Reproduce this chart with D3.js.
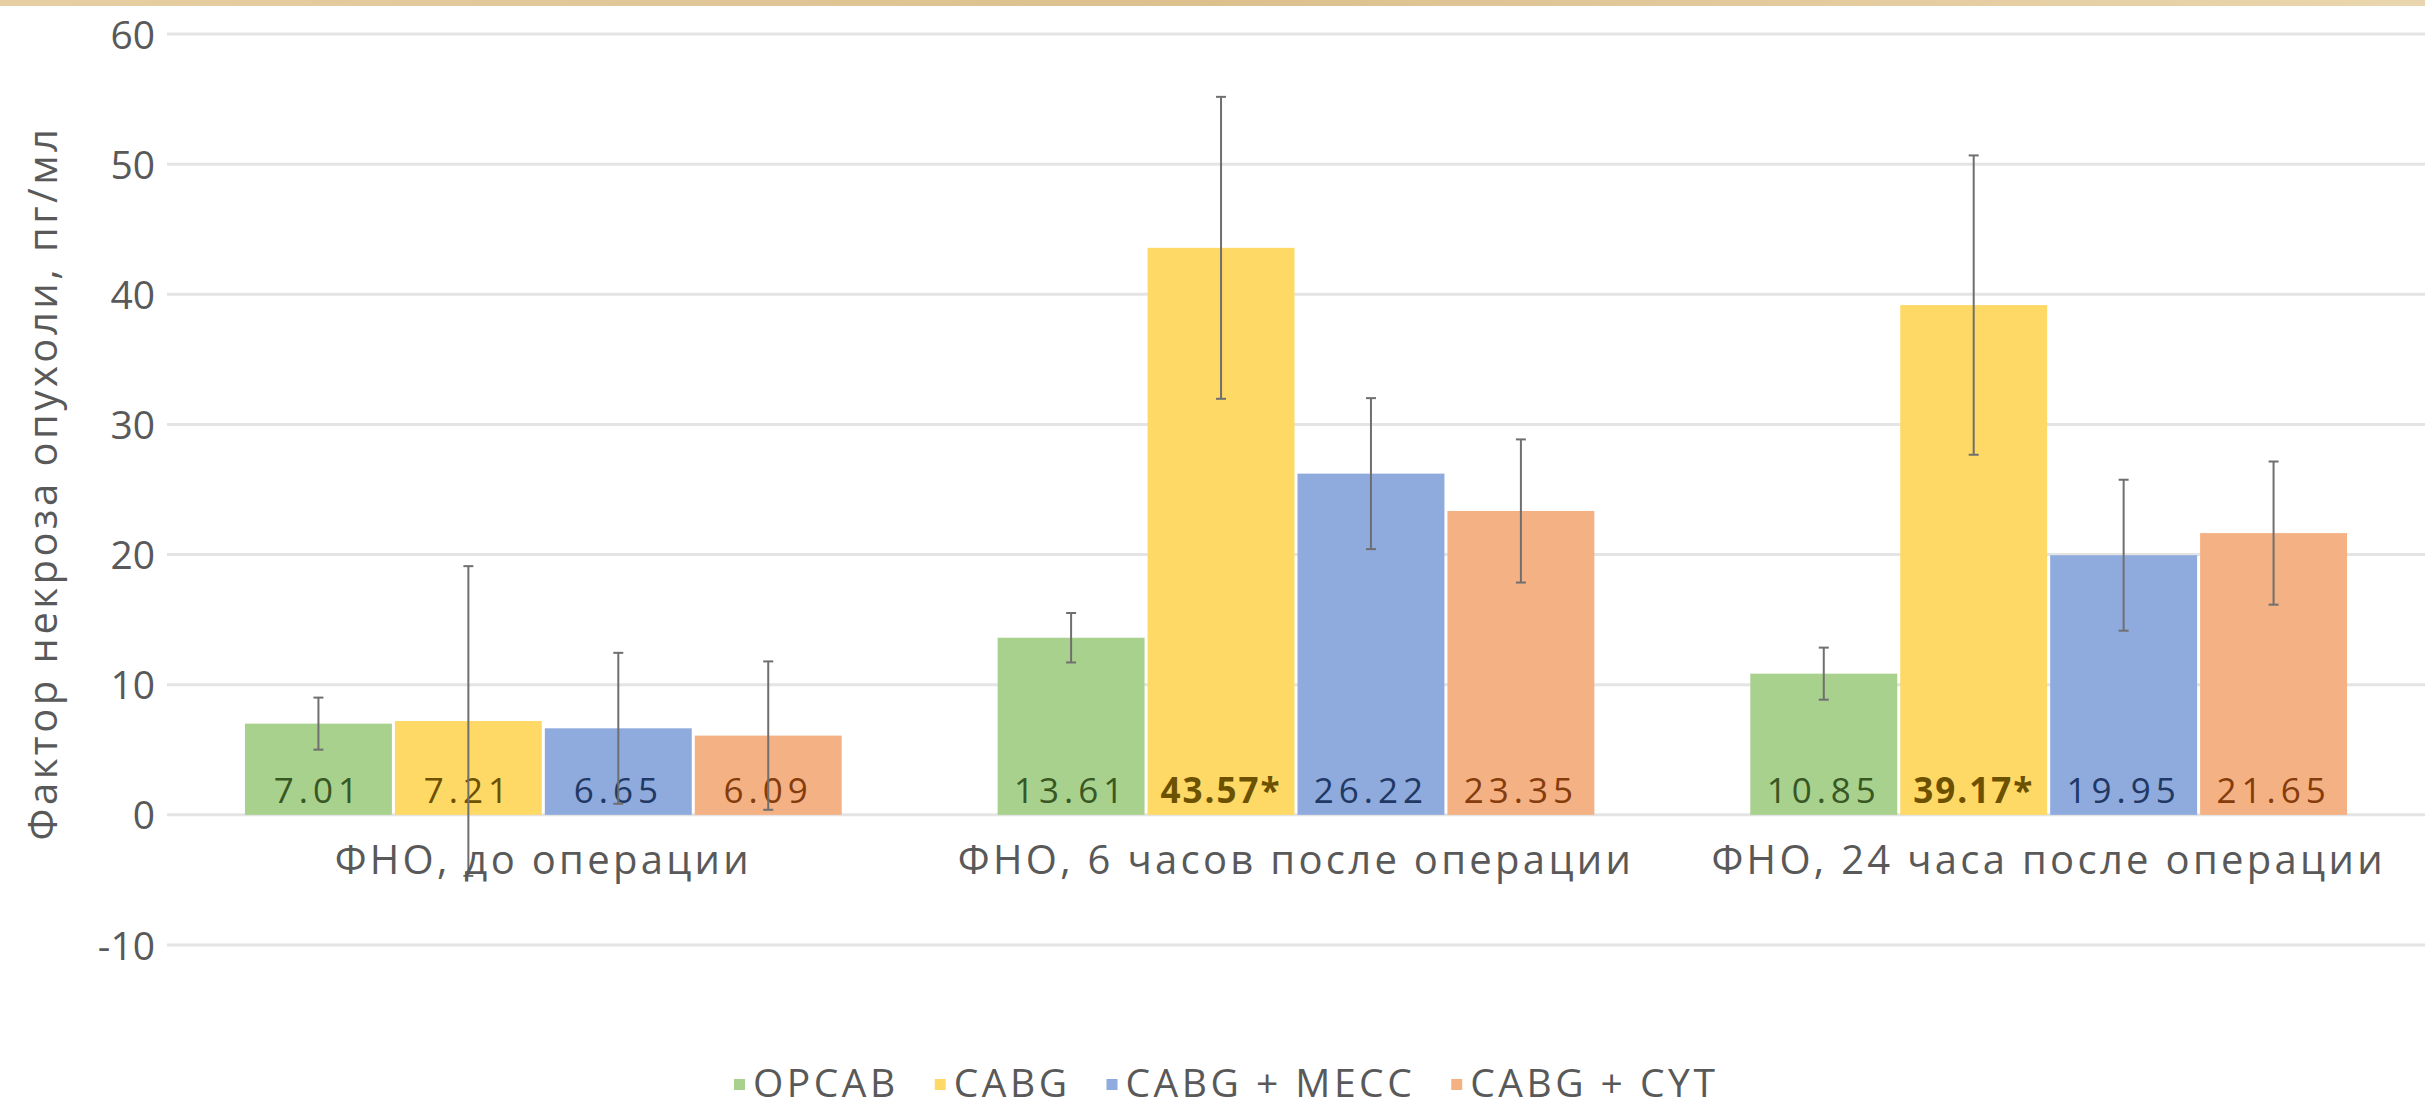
<!DOCTYPE html>
<html>
<head>
<meta charset="utf-8">
<script src="https://cdn.jsdelivr.net/npm/d3@7"></script>
<style>
  body { margin: 0; background: #fff; }
  text { font-family: "Open Sans", sans-serif; }
</style>
</head>
<body>
<svg id="chart"></svg>
<script>
const categories = ["ФНО, до операции", "ФНО, 6 часов после операции", "ФНО, 24 часа после операции"];
const seriesNames = ["OPCAB", "CABG", "CABG + MECC", "CABG + CYT"];

const opcab = [7.01, 13.61, 10.85];
const cabg = [7.21, 43.57, 39.17];
const cabgMecc = [6.65, 26.22, 19.95];
const cabgCyt = [6.09, 23.35, 21.65];

const opcabErr = [2.0, 1.9, 2.0];
const cabgErr = [11.9, 11.6, 11.5];
const cabgMeccErr = [5.8, 5.8, 5.8];
const cabgCytErr = [5.7, 5.5, 5.5];

// "*" marks significant difference
const cabgMarks = ["", "*", "*"];

const yTicks = [-10, 0, 10, 20, 30, 40, 50, 60];

function makeBarChart() {
    let w = 2425;
    let h = 1108;

    let barColors = ["#a9d18e", "#ffd966", "#8faadc", "#f4b183"];
    let labelColors = ["#385723", "#6b5100", "#1f3864", "#843c0c"];

    let allValues = [opcab, cabg, cabgMecc, cabgCyt];
    let allErrors = [opcabErr, cabgErr, cabgMeccErr, cabgCytErr];
    let allMarks = [["", "", ""], cabgMarks, ["", "", ""], ["", "", ""]];

    let svg = d3.select("#chart")
        .attr("width", w)
        .attr("height", h);

    // tan strip at the top of the picture
    let grad = svg.append("defs").append("linearGradient")
        .attr("id", "strip");
    grad.append("stop").attr("offset", "0%").attr("stop-color", "#e6cfa3");
    grad.append("stop").attr("offset", "50%").attr("stop-color", "#dcc08e");
    grad.append("stop").attr("offset", "100%").attr("stop-color", "#ead6ae");
    svg.append("rect")
        .attr("x", 0).attr("y", 0)
        .attr("width", w).attr("height", 6)
        .attr("fill", "url(#strip)");

    let x0 = d3.scaleBand()
        .domain(categories)
        .range([167, 2425])
        .paddingInner(0)
        .paddingOuter(0);

    let x1 = d3.scaleBand()
        .domain(seriesNames)
        .range([0, x0.bandwidth()])
        .paddingInner(0)
        .paddingOuter(0.51);

    let y = d3.scaleLinear()
        .domain([-10, 60])
        .range([945, 34]);

    // gridlines
    svg.append("g")
        .selectAll("line")
        .data(yTicks)
        .enter()
        .append("line")
        .attr("x1", 167)
        .attr("x2", w)
        .attr("y1", d => y(d))
        .attr("y2", d => y(d))
        .attr("stroke", "#e4e4e4")
        .attr("stroke-width", 3);

    // y axis tick labels
    let yAxis = d3.axisLeft(y)
        .tickValues(yTicks)
        .tickFormat(d => String(d))
        .tickSize(0)
        .tickPadding(0);
    let yg = svg.append("g")
        .attr("transform", "translate(155,0)")
        .call(yAxis);
    yg.select(".domain").remove();
    yg.selectAll("text")
        .attr("font-family", "Open Sans, sans-serif")
        .attr("font-size", "39px")
        .attr("fill", "#595959")
        .attr("dy", "0.36em");

    // y axis title
    svg.append("text")
        .attr("transform", "translate(43,483) rotate(-90)")
        .attr("text-anchor", "middle")
        .attr("dy", "0.36em")
        .attr("font-size", "40px")
        .attr("letter-spacing", "3.5px")
        .attr("fill", "#595959")
        .text("Фактор некроза опухоли, пг/мл");

    // bars
    let rows = [];
    categories.forEach((c, i) => {
        seriesNames.forEach((s, j) => {
            rows.push({
                cat: c, ser: s, j: j,
                v: allValues[j][i],
                e: allErrors[j][i],
                mark: allMarks[j][i]
            });
        });
    });

    svg.selectAll("rect.bar")
        .data(rows)
        .enter()
        .append("rect")
        .classed("bar", true)
        .attr("x", d => x0(d.cat) + x1(d.ser) + 1.5)
        .attr("width", x1.bandwidth() - 3)
        .attr("y", d => y(d.v))
        .attr("height", d => y(0) - y(d.v))
        .attr("fill", d => barColors[d.j]);

    // value labels inside bars
    svg.selectAll("text.val")
        .data(rows)
        .enter()
        .append("text")
        .classed("val", true)
        .attr("x", d => x0(d.cat) + x1(d.ser) + x1.bandwidth() / 2)
        .attr("y", y(0) - 12)
        .attr("text-anchor", "middle")
        .attr("font-size", "35px")
        .attr("letter-spacing", d => d.mark ? "2px" : "5px")
        .attr("font-weight", d => d.mark ? "bold" : "normal")
        .attr("fill", d => labelColors[d.j])
        .text(d => d.v.toFixed(2) + d.mark);

    // error bars
    let eg = svg.append("g")
        .attr("stroke", "#6f6f6f")
        .attr("stroke-width", 2);
    rows.forEach(d => {
        let cx = x0(d.cat) + x1(d.ser) + x1.bandwidth() / 2;
        eg.append("line")
            .attr("x1", cx).attr("x2", cx)
            .attr("y1", y(d.v + d.e)).attr("y2", y(d.v - d.e));
        [d.v + d.e, d.v - d.e].forEach(t => {
            eg.append("line")
                .attr("x1", cx - 5).attr("x2", cx + 5)
                .attr("y1", y(t)).attr("y2", y(t));
        });
    });

    // category labels
    svg.selectAll("text.cat")
        .data(categories)
        .enter()
        .append("text")
        .classed("cat", true)
        .attr("x", d => x0(d) + x0.bandwidth() / 2)
        .attr("y", 860)
        .attr("dy", "0.36em")
        .attr("text-anchor", "middle")
        .attr("font-size", "40px")
        .attr("letter-spacing", "3.3px")
        .attr("fill", "#595959")
        .text(d => d);

    // legend
    let lg = svg.append("g");
    let lx = 734;
    seriesNames.forEach((s, j) => {
        lg.append("rect")
            .attr("x", lx)
            .attr("y", 1079)
            .attr("width", 11)
            .attr("height", 11)
            .attr("fill", barColors[j]);
        let t = lg.append("text")
            .attr("x", lx + 19)
            .attr("y", 1083)
            .attr("dy", "0.36em")
            .attr("font-size", "39px")
            .attr("letter-spacing", "3.5px")
            .attr("fill", "#595959")
            .text(s);
        lx += 19 + t.node().getComputedTextLength() + 36;
    });
}

window.onload = function() {
    makeBarChart();
}
</script>
</body>
</html>
